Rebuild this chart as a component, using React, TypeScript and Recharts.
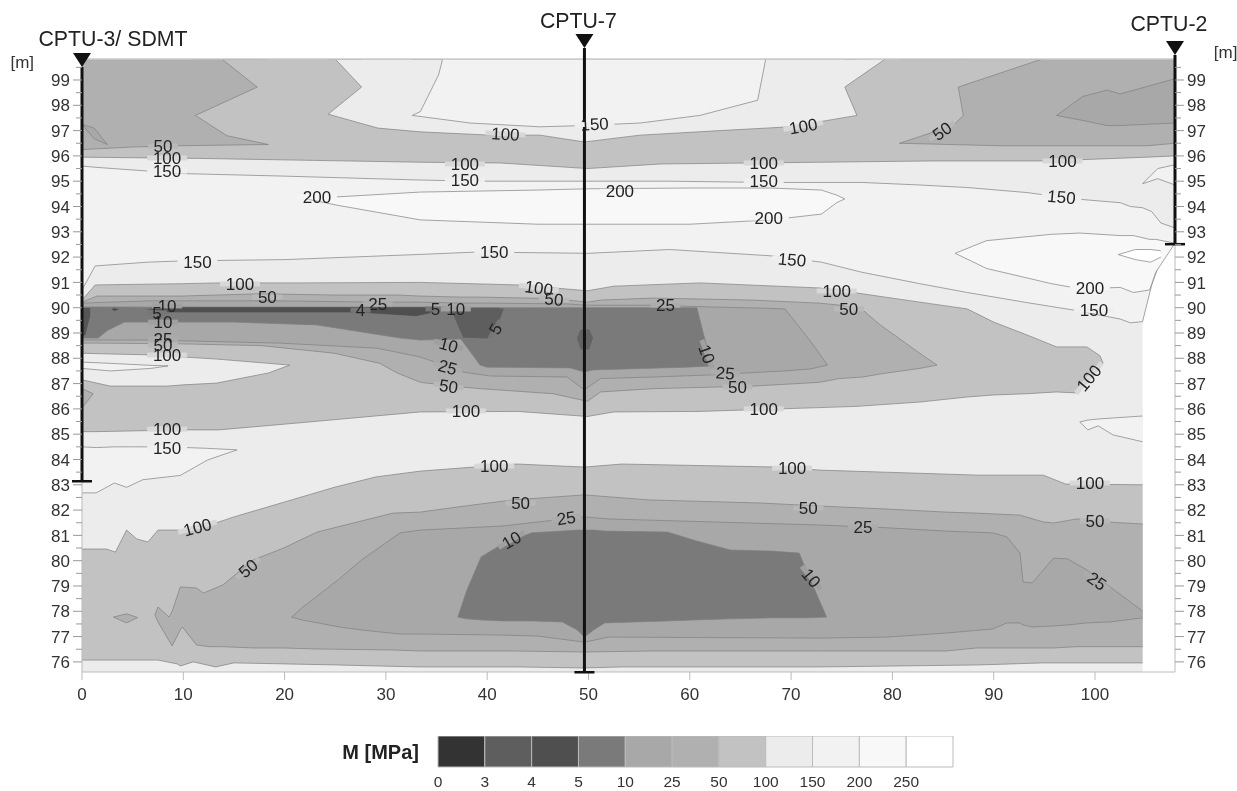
import { Area, Bar, BarChart, ComposedChart, ReferenceDot, ReferenceLine, XAxis, YAxis } from 'recharts'

type Ring = Array<[number, number, number]> // distance, lower depth level, upper depth level

const TOP = 99.83
const BOTTOM = 75.6
const RIGHT = 107.9
const FONT = '"Liberation Sans", Arial, sans-serif'

const distanceTicks = [0, 10, 20, 30, 40, 50, 60, 70, 80, 90, 100]
const levelTicks = Array.from({ length: 48 }, (_, i) => 76 + i / 2)

const legendValues = ['0', '3', '4', '5', '10', '25', '50', '100', '150', '200', '250']
const legendColors = ['#333333', '#5e5e5e', '#4f4f4f', '#7a7a7a', '#a8a8a8', '#b0b0b0', '#c2c2c2', '#ececec', '#f2f2f2', '#f8f8f8', '#ffffff']

const baseBand: Ring = [[0, BOTTOM, TOP], [104.7, BOTTOM, TOP], [104.71, 89.45, TOP], [105.6, 90.9, TOP], [106.5, 91.9, TOP], [RIGHT, 92.55, TOP]]

const upper150: Ring = [
  [0, 90.7, 95.6], [1.3, 91.65, 95.55], [6.5, 91.8, 95.4], [10, 91.85, 95.3], [20, 91.9, 95.2], [33, 92.1, 95.05], [39, 92.2, 95],
  [50, 92.15, 95], [58, 92.3, 95], [68, 92.05, 94.95], [73, 91.8, 94.95], [77, 91.4, 94.95], [82.7, 90.95, 94.85], [87.4, 90.6, 94.75],
  [93.3, 90.2, 94.55], [98, 89.9, 94.3], [102.5, 89.55, 94.15], [103.5, 89.4, 94], [104.7, 89.45, 93.95], [105.6, 90.9, 93.8], [106.5, 91.9, 93.35], [RIGHT, 92.55, 93.15],
]
const island200: Ring = [
  [21.7, 94.34, 94.34], [25.2, 94.05, 94.38], [33.4, 93.47, 94.57], [45, 93.3, 94.65], [50, 93.3, 94.7], [60, 93.3, 94.73],
  [68, 93.47, 94.73], [73, 93.7, 94.65], [74.5, 94.15, 94.45], [75.3, 94.3, 94.3],
]
const rightIsland200: Ring = [
  [86.2, 92.15, 92.15], [89.3, 91.55, 92.65], [95.7, 90.95, 92.9], [98.5, 90.75, 92.95], [102.5, 90.8, 92.85], [103.8, 90.6, 92.85],
  [105.4, 90.7, 92.7], [106, 91.4, 92.7], [RIGHT, 92.55, 92.55],
]
const rightIsland250: Ring = [[102.3, 92.1, 92.1], [104, 91.9, 92.3], [105.5, 91.8, 92.3], [106.5, 92, 92.25]]
const wedge150Right: Ring = [[104.7, 94.9, 94.9], [106.2, 95.1, 95.5], [RIGHT, 94.85, 95.65]]

const topBand50: Ring = [
  [0, 95.95, TOP], [11.6, 95.9, TOP], [33.4, 95.75, TOP], [41.3, 95.72, TOP], [49.9, 95.5, TOP], [57.1, 95.68, TOP], [72.8, 95.75, TOP],
  [83.7, 95.8, TOP], [95.3, 95.8, TOP], [105.2, 95.95, TOP], [RIGHT, 96, TOP],
]
const topWindow100: Ring = [
  [25, TOP, TOP], [27.6, 98.72, TOP], [24.3, 97.65, TOP], [29.2, 97.1, TOP], [33.4, 96.95, TOP], [40.3, 96.82, TOP], [45.2, 96.82, TOP],
  [49.6, 96.55, TOP], [55.1, 96.82, TOP], [63, 97, TOP], [69.9, 97.15, TOP], [76.5, 97.6, TOP], [75.3, 98.72, TOP], [79.3, TOP, TOP],
]
const topWindow150: Ring = [
  [35.6, TOP, TOP], [35.2, 99.2, TOP], [33.4, 97.75, TOP], [32.6, 97.6, TOP], [38.3, 97.3, TOP], [45.2, 97.15, TOP], [49.6, 97.2, TOP],
  [55.1, 97.3, TOP], [61, 97.6, TOP], [66.7, 98.2, TOP], [67.5, TOP, TOP],
]
const topLeft25: Ring = [
  [13.8, TOP, TOP], [17.3, 98.72, TOP], [11.2, 97.6, TOP], [14.3, 96.8, TOP], [18.4, 96.45, TOP], [9.4, 96.4, TOP], [5, 96.35, TOP], [0, 96.25, TOP],
]
const topLeft10: Ring = [[0, 97.25, 97.25], [1.2, 96.68, 97.1], [2.5, 96.45, 96.45]]
const topRight25: Ring = [
  [94.8, TOP, TOP], [86.5, 98.72, TOP], [87, 97.6, TOP], [86, 97.2, TOP], [80.7, 96.5, TOP], [90.6, 96.4, TOP], [105.2, 96.4, TOP], [RIGHT, 96.5, TOP],
]
const topRight10: Ring = [[96.2, 97.6, 97.6], [98.8, 97.4, 98.35], [101.2, 97.2, 98.6], [102.5, 97.2, 98.45], [RIGHT, 97.3, 99.05]]

const middle50: Ring = [
  [0, 85.1, 90.3], [1.3, 85.1, 90.9], [10, 85.17, 90.95], [13.5, 85.17, 90.98], [21.5, 85.45, 90.98], [33.4, 85.88, 91], [43, 85.9, 90.9],
  [49.9, 85.7, 90.67], [52.5, 85.88, 90.85], [61, 85.9, 90.98], [72.8, 86.05, 90.78], [76.5, 86.1, 90.58], [82.7, 86.27, 90.22], [87.4, 86.47, 89.95],
  [90, 86.55, 89.43], [93.3, 86.6, 88.92], [96.2, 86.67, 88.45], [98.2, 86.63, 88.45], [99.2, 87.1, 88.45], [100.5, 87.7, 88.1], [100.8, 87.8, 87.8],
]
const lens100: Ring = [[0, 87.15, 88.2], [2.8, 86.9, 88.17], [8.4, 86.9, 88.12], [10, 86.95, 88.05], [13.3, 87.02, 87.97], [18.4, 87.42, 87.8], [20.5, 87.73, 87.73]]
const lens150: Ring = [[0, 87.6, 87.85], [2.8, 87.5, 87.8], [6.8, 87.6, 87.72], [8.5, 87.7, 87.7]]
const leftWedge25: Ring = [[0, 86.03, 86.8], [1.1, 86.6, 86.6]]

const middle25: Ring = [
  [0, 88.6, 90.22], [1.5, 88.6, 90.46], [9.8, 88.57, 90.46], [17.7, 88.5, 90.55], [24.9, 88.2, 90.5], [29.4, 87.8, 90.5], [31.1, 87.42, 90.5],
  [33.4, 87.05, 90.46], [37.3, 86.87, 90.42], [39.3, 86.8, 90.42], [46.5, 86.6, 90.36], [49.9, 86.3, 90.22], [51.2, 86.67, 90.3], [56.4, 86.8, 90.38],
  [66.2, 86.9, 90.3], [72.8, 87.05, 90.18], [74.8, 87.2, 90.1], [77.1, 87.26, 89.9], [78.8, 87.38, 89.32], [82.7, 87.6, 88.2], [84.4, 87.73, 87.73],
]
const middle10: Ring = [
  [0, 88.72, 90.18], [6.6, 88.72, 90.27], [19.5, 88.6, 90.27], [29.1, 88.4, 90.22], [33.4, 88.05, 90.22], [37.7, 87.45, 90.18], [40.3, 87.3, 90.18],
  [47.9, 87.26, 90.15], [49.6, 86.75, 90.1], [50.3, 86.95, 90.1], [51.2, 87.2, 90.1], [56.4, 87.26, 90.1], [62, 87.34, 90.03], [67.4, 87.46, 89.98],
  [69.4, 87.5, 89.95], [71.9, 87.58, 88.68], [73.6, 87.73, 87.73],
]
const middle5: Ring = [
  [0, 88.8, 90.03], [1.6, 88.8, 90.03], [2.5, 89.1, 90.03], [4.2, 89.43, 90.03], [15, 89.43, 90], [23.2, 89.32, 90], [31.4, 88.8, 90], [33.4, 88.72, 90],
  [37.4, 88.76, 90], [39.3, 87.73, 90], [40, 87.65, 90], [48.2, 87.62, 90], [49.6, 87.46, 90], [50.4, 87.54, 90], [59.7, 87.65, 90], [60.7, 87.67, 90],
  [61.3, 87.68, 89.04], [62.2, 87.7, 87.7],
]
const trapezoid4: Ring = [[36.3, 90, 90], [37.6, 88.8, 90], [40, 88.76, 90], [41, 89.24, 90], [41.7, 89.97, 89.97]]
const hexagon4: Ring = [[48.8, 88.8, 88.8], [49.2, 88.33, 89.16], [50.1, 88.33, 89.16], [50.5, 88.8, 88.8]]
const strip4: Ring = [[6, 89.95, 89.95], [8.5, 89.8, 90.03], [27, 89.8, 90.03], [33, 89.65, 90.03], [34.2, 89.75, 90.03], [35, 89.9, 89.9]]
const leftSliver4: Ring = [[0, 88.8, 90], [0.4, 88.95, 90], [0.8, 89.6, 90]]
const dash4: Ring = [[2.8, 89.95, 89.95], [3.2, 89.85, 90], [3.8, 89.95, 89.95]]

const lower150Left: Ring = [
  [0, 82.68, 84.5], [1.4, 82.68, 84.47], [3.2, 83.07, 84.5], [4.4, 82.9, 84.5], [6, 83.2, 84.5], [9.7, 83.37, 84.48], [12.4, 83.98, 84.44], [15.3, 84.38, 84.38],
]
const lower150Right: Ring = [[98.5, 85.48, 85.48], [99.3, 85.17, 85.56], [100.3, 85.33, 85.6], [101.8, 84.97, 85.64], [104.7, 84.7, 85.72]]

const lower50: Ring = [
  [0, 76.07, 80.46], [2.4, 76.07, 80.46], [3.3, 76.07, 80.34], [4.4, 76.07, 81.21], [5.4, 76.07, 80.86], [6.5, 76.07, 80.74], [7.5, 76.07, 81.21],
  [9.4, 75.92, 81.21], [9.7, 75.84, 81.21], [11, 76, 81.33], [13.2, 75.8, 81.49], [15, 75.96, 81.73], [20, 75.92, 82.32], [25, 75.88, 82.91], [29, 75.84, 83.31],
  [33.4, 75.8, 83.54], [40, 75.8, 83.74], [43, 75.8, 83.82], [49.6, 75.76, 83.7], [53.3, 75.8, 83.82], [68.7, 75.8, 83.7], [72.8, 75.8, 83.58], [88.6, 75.88, 83.38],
  [94.9, 75.96, 83.38], [97.1, 75.96, 83.03], [104.7, 75.96, 83],
]
const lower25: Ring = [
  [7.2, 77.85, 77.85], [7.5, 77.58, 78.17], [8.6, 76.83, 77.77], [8.9, 76.63, 78], [9.7, 77.26, 78.96], [9.9, 77.38, 78.96], [11.3, 76.67, 78.92], [12, 76.63, 78.72],
  [12.7, 76.6, 78.84], [13.9, 76.6, 79.04], [16.9, 76.55, 80.03], [19.9, 76.55, 80.5], [23.2, 76.51, 81.13], [30.7, 76.47, 81.88], [33.4, 76.43, 81.92], [37, 76.43, 82.12],
  [42.5, 76.43, 82.4], [49.6, 76.39, 82.6], [56, 76.43, 82.4], [67, 76.43, 82.28], [72.8, 76.43, 82.16], [79.5, 76.43, 82.04], [85.3, 76.43, 81.92], [88.3, 76.55, 81.88],
  [92.6, 76.55, 81.8], [94.9, 76.55, 81.53], [95.9, 76.55, 81.49], [98.2, 76.6, 81.65], [101.2, 76.6, 81.53], [104.7, 76.6, 81.45],
]
const lowerWedge25: Ring = [[3.1, 77.77, 77.77], [4.4, 77.54, 77.9], [5.5, 77.75, 77.75]]
const lower10: Ring = [
  [20.7, 77.77, 77.77], [21.7, 77.66, 78.13], [25.4, 77.38, 79.28], [27.6, 77.26, 80.03], [31.4, 77.1, 81.1], [33.4, 77.1, 81.21], [41.5, 77.06, 81.37], [45, 77.02, 81.53],
  [49.6, 76.78, 81.73], [52, 76.98, 81.65], [72.8, 76.94, 81.41], [79.5, 76.98, 81.3], [85.3, 77.14, 81.17], [89.9, 77.3, 81.1], [91.3, 77.54, 80.94], [92.6, 77.54, 80.3],
  [92.9, 77.46, 79.16], [93.8, 77.38, 79.12], [95.9, 77.42, 80.1], [97.3, 77.46, 80.07], [99.2, 77.54, 79.63], [101.5, 77.58, 78.96], [104.7, 77.74, 78.01],
]
const lower5: Ring = [
  [37.1, 77.77, 77.77], [38, 77.7, 78.84], [39.4, 77.66, 80.15], [41.5, 77.62, 80.66], [44.4, 77.62, 81.1], [47.4, 77.58, 81.17], [48.9, 77.26, 81.21], [49.6, 76.98, 81.21],
  [50.5, 77.26, 81.21], [51.6, 77.54, 81.17], [57.8, 77.62, 81.13], [60.5, 77.66, 80.8], [64, 77.7, 80.42], [68, 77.74, 80.38], [70.8, 77.74, 80.3], [71.5, 77.74, 79.63], [73.5, 77.77, 77.77],
]

// painted back to front
const bands: Array<[Ring, string]> = [
  [upper150, '#f2f2f2'], [island200, '#f8f8f8'], [rightIsland200, '#f8f8f8'], [rightIsland250, '#ffffff'], [wedge150Right, '#f2f2f2'],
  [topBand50, '#c2c2c2'], [topWindow100, '#ececec'], [topWindow150, '#f2f2f2'], [topLeft25, '#b0b0b0'], [topLeft10, '#a8a8a8'], [topRight25, '#b0b0b0'], [topRight10, '#a8a8a8'],
  [middle50, '#c2c2c2'], [lens100, '#ececec'], [lens150, '#f2f2f2'], [leftWedge25, '#b0b0b0'], [middle25, '#b0b0b0'], [middle10, '#a8a8a8'], [middle5, '#7a7a7a'],
  [trapezoid4, '#5e5e5e'], [hexagon4, '#636363'], [strip4, '#4f4f4f'], [leftSliver4, '#555555'], [dash4, '#4f4f4f'],
  [lower150Left, '#f2f2f2'], [lower150Right, '#f2f2f2'], [lower50, '#c2c2c2'], [lower25, '#b0b0b0'], [lowerWedge25, '#b0b0b0'], [lower10, '#a8a8a8'], [lower5, '#7a7a7a'],
]

// distance, level, text, rotation
const contourLabels: Array<[number, number, string, number]> = [
  [8, 96.39, '50', 0], [8.4, 95.92, '100', 0], [8.4, 95.4, '150', 0], [23.2, 94.38, '200', 0], [41.8, 96.87, '100', 3], [50.6, 97.26, '150', -3], [71.2, 97.18, '100', -10],
  [84.9, 96.98, '50', -35], [37.8, 95.68, '100', 0], [37.8, 95.05, '150', 0], [53.1, 94.6, '200', 0], [67.3, 95.72, '100', 0], [67.3, 95, '150', 0], [67.8, 93.55, '200', 0],
  [96.8, 95.8, '100', 0], [96.7, 94.38, '150', 5], [11.4, 91.8, '150', 0], [40.7, 92.2, '150', 0], [70.1, 91.9, '150', 5], [15.6, 90.94, '100', 0], [18.3, 90.42, '50', 0],
  [29.2, 90.15, '25', 0], [27.5, 89.9, '4', 0], [34.9, 89.95, '5', 0], [36.9, 89.95, '10', 0], [45.1, 90.78, '100', 8], [46.6, 90.34, '50', 5], [57.6, 90.1, '25', 0],
  [40.8, 89.16, '5', -60], [74.5, 90.66, '100', 0], [75.7, 89.95, '50', 0], [99.5, 90.78, '200', 0], [99.9, 89.9, '150', 0], [8.4, 90.07, '10', 0], [7.4, 89.8, '5', 0],
  [8, 89.43, '10', 0], [8, 88.75, '25', 0], [8, 88.52, '50', 0], [8.4, 88.13, '100', 0], [36.2, 88.53, '10', 15], [36.1, 87.65, '25', 15], [36.2, 86.9, '50', 8],
  [37.9, 85.92, '100', 0], [61.7, 88.17, '10', 70], [63.5, 87.42, '25', 5], [64.7, 86.87, '50', 0], [67.3, 86, '100', 0], [99.4, 87.22, '100', -50], [8.4, 85.2, '100', 0],
  [8.4, 84.45, '150', 0], [40.7, 83.74, '100', 0], [70.1, 83.66, '100', 0], [99.5, 83.07, '100', 0], [11.4, 81.33, '100', -15], [43.3, 82.28, '50', 0], [71.7, 82.08, '50', 0],
  [77.1, 81.33, '25', 0], [100, 81.57, '50', 0], [47.8, 81.69, '25', -8], [42.4, 80.82, '10', -30], [16.4, 79.7, '50', -40], [72, 79.32, '10', 50], [100.2, 79.2, '25', 35],
]

// colour that breaks a contour line behind its label
const labelGap: Record<string, string> = { '250': '#fbfbfb', '200': '#f5f5f5', '150': '#efefef', '100': '#d8d8d8', '50': '#b9b9b9', '25': '#acacac', '10': '#a0a0a0', '5': '#777777', '4': '#777777' }

const stationNames = ['CPTU-3/ SDMT', 'CPTU-7', 'CPTU-2']
const stationX = [0, 49.6, RIGHT]
const stationTop = [99.51, 100.26, 99.99]
const stationBottom = [83.15, BOTTOM, 92.52]
const stationLabelX = [3.06, 49, 107.3]
const stationLabelY = [100.66, 101.37, 101.25]

const legendRow = [Object.fromEntries(legendValues.map((v, i) => [`b${i}`, 1]).concat([['name', 'M [MPa]']]))]

const toRows = (ring: Ring) => ring.map(([x, lo, hi]) => ({ x, range: [lo, hi] }))

const LevelTick = ({ x, y, payload, side }: any) => {
  const dir = side === 'left' ? -1 : 1
  const major = Number.isInteger(payload.value)
  return (
    <g>
      <line x1={x} x2={x + dir * (major ? 9 : 6)} y1={y} y2={y} stroke="#999" />
      {major && (
        <text x={x + dir * 12} y={y} dy="0.36em" textAnchor={side === 'left' ? 'end' : 'start'} fontSize={17} fontFamily={FONT} fill="#333">
          {payload.value}
        </text>
      )}
    </g>
  )
}

function App() {
  return (
    <div style={{ position: 'absolute', left: 0, top: 0, width: 1237, height: 791, background: '#fff', overflow: 'hidden', filter: 'blur(0.5px)' }}>
      <ComposedChart width={1237} height={720} margin={{ top: 59, right: 12, bottom: 18, left: 42 }}>
        <XAxis
          type="number"
          dataKey="x"
          domain={[0, RIGHT]}
          ticks={distanceTicks}
          allowDataOverflow
          height={30}
          interval={0}
          stroke="#bbb"
          tickSize={8}
          tickMargin={8}
          tick={{ fontSize: 17, fontFamily: FONT, fill: '#333' }}
        />
        <YAxis yAxisId="left" type="number" domain={[BOTTOM, TOP]} ticks={levelTicks} allowDataOverflow width={40} interval={0} axisLine={false} tickSize={0} tickMargin={0} tick={<LevelTick side="left" />} />
        <YAxis yAxisId="right" orientation="right" type="number" domain={[BOTTOM, TOP]} ticks={levelTicks} allowDataOverflow width={50} interval={0} axisLine={false} tickSize={0} tickMargin={0} tick={<LevelTick side="right" />} />

        <Area yAxisId="left" data={toRows(baseBand)} dataKey="range" type="linear" fill="#ececec" fillOpacity={1} stroke="none" dot={false} isAnimationActive={false} />
        {bands.map(([ring, fill], i) => (
          <Area key={i} yAxisId="left" data={toRows(ring)} dataKey="range" type="linear" fill={fill} fillOpacity={1} stroke="#808080" strokeWidth={0.7} dot={false} isAnimationActive={false} />
        ))}

        <ReferenceLine yAxisId="left" y={TOP} stroke="#ccc" strokeWidth={1.5} />
        <ReferenceLine yAxisId="left" x={0} stroke="#bbb" />
        <ReferenceLine yAxisId="left" x={RIGHT} stroke="#bbb" />

        {contourLabels.map(([x, y, text, angle], i) => (
          <ReferenceDot
            key={i}
            yAxisId="left"
            x={x}
            y={y}
            ifOverflow="visible"
            shape={(p: any) => (
              <g transform={`rotate(${angle} ${p.cx} ${p.cy})`}>
                <rect x={p.cx - text.length * 5 - 5} y={p.cy - 2.5} width={text.length * 10 + 10} height={5} fill={labelGap[text]} />
                <text x={p.cx} y={p.cy} dy="0.36em" textAnchor="middle" fontSize={17} fontFamily={FONT} fill="#222">
                  {text}
                </text>
              </g>
            )}
          />
        ))}

        {stationNames.map((name, i) => (
          <ReferenceLine
            key={name}
            yAxisId="left"
            ifOverflow="visible"
            segment={[{ x: stationX[i], y: stationTop[i] }, { x: stationX[i], y: stationBottom[i] }]}
            stroke="#111"
            strokeWidth={3}
          />
        ))}
        {stationNames.map((name, i) => (
          <ReferenceDot
            key={`top-${name}`}
            yAxisId="left"
            x={stationX[i]}
            y={stationTop[i]}
            ifOverflow="visible"
            shape={(p: any) => <path d={`M${p.cx - 9} ${p.cy - 14}h18L${p.cx} ${p.cy}z`} fill="#111" />}
          />
        ))}
        {stationNames.map((name, i) => (
          <ReferenceDot
            key={`cap-${name}`}
            yAxisId="left"
            x={stationX[i]}
            y={stationBottom[i]}
            ifOverflow="visible"
            shape={(p: any) => <rect x={p.cx - 10} y={p.cy - 1} width={20} height={2.5} fill="#111" />}
          />
        ))}
        {stationNames.map((name, i) => (
          <ReferenceDot
            key={`name-${name}`}
            yAxisId="left"
            x={stationLabelX[i]}
            y={stationLabelY[i]}
            ifOverflow="visible"
            shape={(p: any) => (
              <text x={p.cx} y={p.cy} dy="0.36em" textAnchor="middle" fontSize={21.3} fontFamily={FONT} fill="#222">
                {name}
              </text>
            )}
          />
        ))}
        <ReferenceDot yAxisId="left" x={-5.9} y={99.7} ifOverflow="visible" shape={(p: any) => <text x={p.cx} y={p.cy} dy="0.36em" textAnchor="middle" fontSize={17} fontFamily={FONT} fill="#333">[m]</text>} />
        <ReferenceDot yAxisId="left" x={112.9} y={100.1} ifOverflow="visible" shape={(p: any) => <text x={p.cx} y={p.cy} dy="0.36em" textAnchor="middle" fontSize={17} fontFamily={FONT} fill="#333">[m]</text>} />
      </ComposedChart>

      <div style={{ position: 'absolute', left: 308, top: 736 }}>
        <BarChart width={670} height={56} layout="vertical" data={legendRow} barCategoryGap={0} margin={{ top: 0, right: 25, bottom: 0, left: 0 }}>
          <XAxis
            type="number"
            domain={[0, 11]}
            ticks={[0, 1, 2, 3, 4, 5, 6, 7, 8, 9, 10]}
            interval={0}
            height={25}
            axisLine={false}
            tickLine={false}
            tickMargin={3}
            tickFormatter={(i: number) => legendValues[i]}
            tick={{ fontSize: 15.5, fontFamily: FONT, fill: '#333' }}
          />
          <YAxis
            type="category"
            dataKey="name"
            width={130}
            axisLine={false}
            tickLine={false}
            tickMargin={13}
            tick={{ fontSize: 20, fontWeight: 700, fontFamily: FONT, fill: '#222' }}
          />
          {legendColors.map((color, i) => (
            <Bar key={i} dataKey={`b${i}`} stackId="scale" fill={color} stroke="#bbb" isAnimationActive={false} />
          ))}
        </BarChart>
      </div>
    </div>
  )
}

export default App
